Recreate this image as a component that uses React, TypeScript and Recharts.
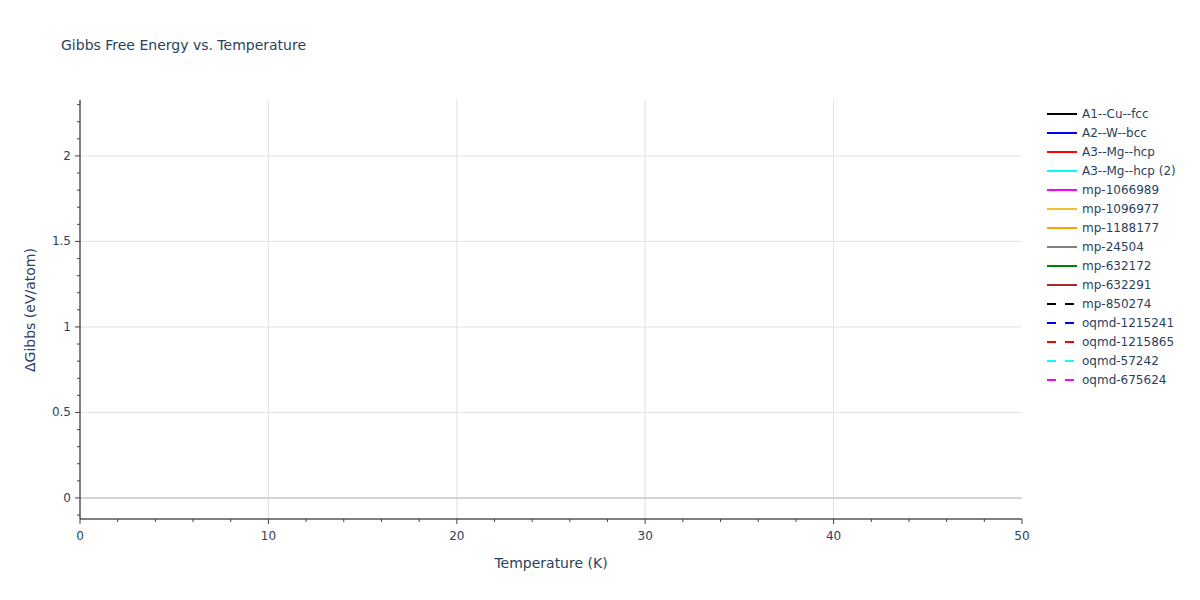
import React from 'react';
import { LineChart, Line, XAxis, YAxis, CartesianGrid, ReferenceLine } from 'recharts';

const seriesNames = [
  'A1--Cu--fcc', 'A2--W--bcc', 'A3--Mg--hcp', 'A3--Mg--hcp (2)', 'mp-1066989',
  'mp-1096977', 'mp-1188177', 'mp-24504', 'mp-632172', 'mp-632291',
  'mp-850274', 'oqmd-1215241', 'oqmd-1215865', 'oqmd-57242', 'oqmd-675624',
];
const seriesColors = [
  '#000000', '#0000ff', '#ff0000', '#00ffff', '#ff00ff',
  '#f0c030', '#ffa500', '#808080', '#008000', '#a52a2a',
  '#000000', '#0000ff', '#ff0000', '#00ffff', '#ff00ff',
];
const seriesDashed = [
  false, false, false, false, false, false, false, false, false, false,
  true, true, true, true, true,
];
// No series has a point inside the visible 0–50 K window.
const temperatures = [0, 50];
const seriesValues: (number | null)[][] = seriesNames.map(() => [null, null]);

const xTicks = [0, 2, 4, 6, 8, 10, 12, 14, 16, 18, 20, 22, 24, 26, 28, 30, 32, 34, 36, 38, 40, 42, 44, 46, 48, 50];
const xMajor = [0, 10, 20, 30, 40, 50];
const yTicks = [-0.1, 0, 0.1, 0.2, 0.3, 0.4, 0.5, 0.6, 0.7, 0.8, 0.9, 1, 1.1, 1.2, 1.3, 1.4, 1.5, 1.6, 1.7, 1.8, 1.9, 2, 2.1, 2.2, 2.3];
const yMajor = [0, 0.5, 1, 1.5, 2];
const yDomain = [-0.123, 2.327];

const data = temperatures.map((t, i) => {
  const row: Record<string, number | null> = { t };
  seriesNames.forEach((n, k) => { row[n] = seriesValues[k][i]; });
  return row;
});

const FONT = '"DejaVu Sans", verdana, arial, sans-serif';
const TXT = '#2a3f5f';

const isMajor = (v: number, list: number[]) => list.some((m) => Math.abs(m - v) < 1e-6);

const XTick = (props: any) => {
  const { x, y, payload } = props;
  const major = isMajor(payload.value, xMajor);
  return (
    <g>
      <line x1={x} x2={x} y1={y} y2={y + (major ? 5 : 3)} stroke="#444" strokeWidth={1} />
      {major && (
        <text x={x} y={y + 21} textAnchor="middle" fontSize={12} fill={TXT} fontFamily={FONT}>
          {payload.value}
        </text>
      )}
    </g>
  );
};

const YTick = (props: any) => {
  const { x, y, payload } = props;
  const major = isMajor(payload.value, yMajor);
  return (
    <g>
      <line x1={x - (major ? 5 : 3)} x2={x} y1={y} y2={y} stroke="#444" strokeWidth={1} />
      {major && (
        <text x={x - 9} y={y + 4} textAnchor="end" fontSize={12} fill={TXT} fontFamily={FONT}>
          {payload.value}
        </text>
      )}
    </g>
  );
};

export default function App() {
  return (
    <div style={{ position: 'absolute', left: 0, top: 0, width: 1200, height: 600, background: '#fff', fontFamily: FONT }}>
      <LineChart width={1200} height={600} data={data} margin={{ top: 100, right: 178, bottom: 21, left: 20 }}>
        <CartesianGrid stroke="#e2e2e2" strokeWidth={1} verticalValues={[10, 20, 30, 40]} horizontalValues={[0.5, 1, 1.5, 2]} />
        <ReferenceLine y={0} stroke="#d3d3d3" strokeWidth={2} ifOverflow="hidden" />
        <XAxis
          dataKey="t"
          type="number"
          domain={[0, 50]}
          ticks={xTicks}
          interval={0}
          allowDataOverflow
          height={60}
          tickSize={0}
          tickMargin={0}
          tickLine={false}
          tick={<XTick />}
          stroke="#000"
        />
        <YAxis
          type="number"
          domain={yDomain}
          ticks={yTicks}
          interval={0}
          allowDataOverflow
          width={60}
          tickSize={0}
          tickMargin={0}
          tickLine={false}
          tick={<YTick />}
          stroke="#000"
        />
        {seriesNames.map((n, k) => (
          <Line
            key={n}
            dataKey={n}
            stroke={seriesColors[k]}
            strokeWidth={2}
            strokeDasharray={seriesDashed[k] ? '9 9' : undefined}
            dot={false}
            isAnimationActive={false}
            connectNulls={false}
          />
        ))}
      </LineChart>

      <svg style={{ position: 'absolute', left: 0, top: 0 }} width={1200} height={600}>
        <text x={61} y={50} fontSize={14} fill={TXT} fontFamily={FONT}>Gibbs Free Energy vs. Temperature</text>
        <text x={551} y={568} fontSize={14} fill={TXT} fontFamily={FONT} textAnchor="middle">Temperature (K)</text>
        <text x={35} y={310} fontSize={14} fill={TXT} fontFamily={FONT} textAnchor="middle" transform="rotate(-90 35 310)">ΔGibbs (eV/atom)</text>
        {seriesNames.map((n, k) => {
          const y = 114 + k * 19;
          return (
            <g key={n}>
              <line
                x1={1047} x2={1077} y1={y} y2={y}
                stroke={seriesColors[k]} strokeWidth={2}
                strokeDasharray={seriesDashed[k] ? '9 9' : undefined}
              />
              <text x={1082} y={y + 4} fontSize={12} fill={TXT} fontFamily={FONT}>{n}</text>
            </g>
          );
        })}
      </svg>
    </div>
  );
}
